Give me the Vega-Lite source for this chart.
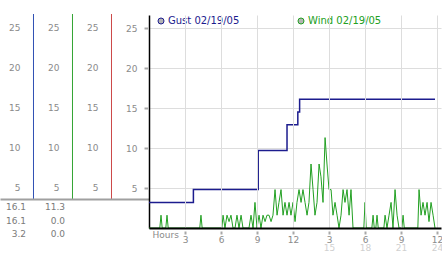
{
  "$schema": "https://vega.github.io/schema/vega-lite/v6.json",
  "padding": {"top": 13, "left": 0, "right": 0, "bottom": 0},
  "background": "white",
  "spacing": 0,
  "bounds": "flush",
  "config": {
    "view": {"stroke": null},
    "font": "DejaVu Sans",
    "axis": {"labelFont": "DejaVu Sans", "titleFont": "DejaVu Sans"},
    "legend": {"labelFont": "DejaVu Sans"}
  },
  "datasets": {
    "gust": [
      {"h": 0, "v": 3.2, "s": "Gust 02/19/05"},
      {"h": 3.7, "v": 4.8, "s": "Gust 02/19/05"},
      {"h": 9.1, "v": 9.7, "s": "Gust 02/19/05"},
      {"h": 11.5, "v": 12.9, "s": "Gust 02/19/05"},
      {"h": 12.4, "v": 14.5, "s": "Gust 02/19/05"},
      {"h": 12.55, "v": 16.1, "s": "Gust 02/19/05"},
      {"h": 23.83, "v": 16.1, "s": "Gust 02/19/05"}
    ],
    "wind": [
      {"h": 0, "v": 0, "s": "Wind 02/19/05"},
      {"h": 0.9, "v": 0, "s": "Wind 02/19/05"},
      {"h": 1, "v": 1.6, "s": "Wind 02/19/05"},
      {"h": 1.1, "v": 0, "s": "Wind 02/19/05"},
      {"h": 1.4, "v": 0, "s": "Wind 02/19/05"},
      {"h": 1.5, "v": 1.6, "s": "Wind 02/19/05"},
      {"h": 1.6, "v": 0, "s": "Wind 02/19/05"},
      {"h": 4.23, "v": 0, "s": "Wind 02/19/05"},
      {"h": 4.33, "v": 1.6, "s": "Wind 02/19/05"},
      {"h": 4.43, "v": 0, "s": "Wind 02/19/05"},
      {"h": 6.07, "v": 0, "s": "Wind 02/19/05"},
      {"h": 6.17, "v": 1.6, "s": "Wind 02/19/05"},
      {"h": 6.33, "v": 0, "s": "Wind 02/19/05"},
      {"h": 6.5, "v": 1.6, "s": "Wind 02/19/05"},
      {"h": 6.67, "v": 0.8, "s": "Wind 02/19/05"},
      {"h": 6.83, "v": 1.6, "s": "Wind 02/19/05"},
      {"h": 7, "v": 0, "s": "Wind 02/19/05"},
      {"h": 7.17, "v": 0, "s": "Wind 02/19/05"},
      {"h": 7.33, "v": 1.6, "s": "Wind 02/19/05"},
      {"h": 7.5, "v": 0, "s": "Wind 02/19/05"},
      {"h": 7.67, "v": 1.6, "s": "Wind 02/19/05"},
      {"h": 7.83, "v": 0, "s": "Wind 02/19/05"},
      {"h": 8.33, "v": 0, "s": "Wind 02/19/05"},
      {"h": 8.5, "v": 1.6, "s": "Wind 02/19/05"},
      {"h": 8.67, "v": 0, "s": "Wind 02/19/05"},
      {"h": 8.83, "v": 3.2, "s": "Wind 02/19/05"},
      {"h": 9, "v": 0, "s": "Wind 02/19/05"},
      {"h": 9.17, "v": 1.6, "s": "Wind 02/19/05"},
      {"h": 9.33, "v": 0, "s": "Wind 02/19/05"},
      {"h": 9.5, "v": 1.6, "s": "Wind 02/19/05"},
      {"h": 9.67, "v": 0.8, "s": "Wind 02/19/05"},
      {"h": 9.83, "v": 1.6, "s": "Wind 02/19/05"},
      {"h": 10, "v": 1.6, "s": "Wind 02/19/05"},
      {"h": 10.17, "v": 0.8, "s": "Wind 02/19/05"},
      {"h": 10.33, "v": 1.6, "s": "Wind 02/19/05"},
      {"h": 10.5, "v": 4.8, "s": "Wind 02/19/05"},
      {"h": 10.67, "v": 1.6, "s": "Wind 02/19/05"},
      {"h": 10.83, "v": 3.2, "s": "Wind 02/19/05"},
      {"h": 11, "v": 4.8, "s": "Wind 02/19/05"},
      {"h": 11.17, "v": 1.6, "s": "Wind 02/19/05"},
      {"h": 11.33, "v": 3.2, "s": "Wind 02/19/05"},
      {"h": 11.5, "v": 1.6, "s": "Wind 02/19/05"},
      {"h": 11.67, "v": 3.2, "s": "Wind 02/19/05"},
      {"h": 11.83, "v": 1.6, "s": "Wind 02/19/05"},
      {"h": 12, "v": 3.2, "s": "Wind 02/19/05"},
      {"h": 12.17, "v": 0.8, "s": "Wind 02/19/05"},
      {"h": 12.33, "v": 3.2, "s": "Wind 02/19/05"},
      {"h": 12.5, "v": 4.8, "s": "Wind 02/19/05"},
      {"h": 12.67, "v": 3.2, "s": "Wind 02/19/05"},
      {"h": 12.83, "v": 4.8, "s": "Wind 02/19/05"},
      {"h": 13, "v": 3.2, "s": "Wind 02/19/05"},
      {"h": 13.17, "v": 1.6, "s": "Wind 02/19/05"},
      {"h": 13.33, "v": 3.2, "s": "Wind 02/19/05"},
      {"h": 13.5, "v": 8.0, "s": "Wind 02/19/05"},
      {"h": 13.67, "v": 4.8, "s": "Wind 02/19/05"},
      {"h": 13.83, "v": 1.6, "s": "Wind 02/19/05"},
      {"h": 14, "v": 3.2, "s": "Wind 02/19/05"},
      {"h": 14.17, "v": 8.0, "s": "Wind 02/19/05"},
      {"h": 14.33, "v": 6.4, "s": "Wind 02/19/05"},
      {"h": 14.5, "v": 3.2, "s": "Wind 02/19/05"},
      {"h": 14.67, "v": 11.3, "s": "Wind 02/19/05"},
      {"h": 14.83, "v": 8.0, "s": "Wind 02/19/05"},
      {"h": 15, "v": 4.8, "s": "Wind 02/19/05"},
      {"h": 15.17, "v": 4.8, "s": "Wind 02/19/05"},
      {"h": 15.33, "v": 1.6, "s": "Wind 02/19/05"},
      {"h": 15.5, "v": 3.2, "s": "Wind 02/19/05"},
      {"h": 15.67, "v": 1.6, "s": "Wind 02/19/05"},
      {"h": 15.83, "v": 0, "s": "Wind 02/19/05"},
      {"h": 16, "v": 1.6, "s": "Wind 02/19/05"},
      {"h": 16.17, "v": 4.8, "s": "Wind 02/19/05"},
      {"h": 16.33, "v": 3.2, "s": "Wind 02/19/05"},
      {"h": 16.5, "v": 4.8, "s": "Wind 02/19/05"},
      {"h": 16.67, "v": 1.6, "s": "Wind 02/19/05"},
      {"h": 16.83, "v": 4.8, "s": "Wind 02/19/05"},
      {"h": 17, "v": 0, "s": "Wind 02/19/05"},
      {"h": 17.9, "v": 0, "s": "Wind 02/19/05"},
      {"h": 18, "v": 3.2, "s": "Wind 02/19/05"},
      {"h": 18.1, "v": 0, "s": "Wind 02/19/05"},
      {"h": 18.57, "v": 0, "s": "Wind 02/19/05"},
      {"h": 18.67, "v": 1.6, "s": "Wind 02/19/05"},
      {"h": 18.77, "v": 0, "s": "Wind 02/19/05"},
      {"h": 18.9, "v": 0, "s": "Wind 02/19/05"},
      {"h": 19, "v": 1.6, "s": "Wind 02/19/05"},
      {"h": 19.1, "v": 0, "s": "Wind 02/19/05"},
      {"h": 19.57, "v": 0, "s": "Wind 02/19/05"},
      {"h": 19.67, "v": 1.6, "s": "Wind 02/19/05"},
      {"h": 19.83, "v": 0, "s": "Wind 02/19/05"},
      {"h": 20, "v": 1.6, "s": "Wind 02/19/05"},
      {"h": 20.17, "v": 3.2, "s": "Wind 02/19/05"},
      {"h": 20.33, "v": 0, "s": "Wind 02/19/05"},
      {"h": 20.5, "v": 4.8, "s": "Wind 02/19/05"},
      {"h": 20.67, "v": 1.6, "s": "Wind 02/19/05"},
      {"h": 20.83, "v": 0, "s": "Wind 02/19/05"},
      {"h": 21.07, "v": 0, "s": "Wind 02/19/05"},
      {"h": 21.17, "v": 1.6, "s": "Wind 02/19/05"},
      {"h": 21.27, "v": 0, "s": "Wind 02/19/05"},
      {"h": 22.4, "v": 0, "s": "Wind 02/19/05"},
      {"h": 22.5, "v": 4.8, "s": "Wind 02/19/05"},
      {"h": 22.67, "v": 1.6, "s": "Wind 02/19/05"},
      {"h": 22.83, "v": 3.2, "s": "Wind 02/19/05"},
      {"h": 23, "v": 1.6, "s": "Wind 02/19/05"},
      {"h": 23.17, "v": 3.2, "s": "Wind 02/19/05"},
      {"h": 23.33, "v": 0.8, "s": "Wind 02/19/05"},
      {"h": 23.5, "v": 3.2, "s": "Wind 02/19/05"},
      {"h": 23.67, "v": 1.6, "s": "Wind 02/19/05"},
      {"h": 23.83, "v": 0, "s": "Wind 02/19/05"}
    ],
    "columns": [
      {"col": 1, "s": "Gust"},
      {"col": 2, "s": "Wind"},
      {"col": 3, "s": "Other"}
    ],
    "levels": [
      {"col": 1, "v": 5}, {"col": 1, "v": 10}, {"col": 1, "v": 15}, {"col": 1, "v": 20}, {"col": 1, "v": 25},
      {"col": 2, "v": 5}, {"col": 2, "v": 10}, {"col": 2, "v": 15}, {"col": 2, "v": 20}, {"col": 2, "v": 25},
      {"col": 3, "v": 5}, {"col": 3, "v": 10}, {"col": 3, "v": 15}, {"col": 3, "v": 20}, {"col": 3, "v": 25}
    ],
    "stats": [
      {"col": 1, "stat": "max", "value": 16.1},
      {"col": 1, "stat": "last", "value": 16.1},
      {"col": 1, "stat": "min", "value": 3.2},
      {"col": 2, "stat": "max", "value": 11.3},
      {"col": 2, "stat": "last", "value": 0.0},
      {"col": 2, "stat": "min", "value": 0.0}
    ]
  },
  "resolve": {"scale": {"color": "independent"}, "legend": {"color": "independent"}},
  "hconcat": [
    {
      "width": 149,
      "height": 184,
      "encoding": {
        "x": {"field": "col", "type": "quantitative", "scale": {"domain": [0.141, 3.962], "nice": false, "zero": false},
              "axis": {"orient": "bottom", "labels": false, "ticks": false, "grid": false, "title": null, "domainColor": "#a0a0a0", "domainWidth": 2, "zindex": 1}}
      },
      "layer": [
        {
          "data": {"name": "columns"},
          "transform": [{"filter": "datum.s == 'Gust'"}],
          "mark": {"type": "rule", "strokeWidth": 1, "stroke": "#3050b4", "opacity": 1, "yOffset": -1, "y2Offset": 40},
          "encoding": {}
        },
        {
          "data": {"name": "columns"},
          "transform": [{"filter": "datum.s == 'Wind'"}],
          "mark": {"type": "rule", "strokeWidth": 1, "stroke": "#34a434", "opacity": 1, "yOffset": -1, "y2Offset": 40},
          "encoding": {}
        },
        {
          "data": {"name": "columns"},
          "transform": [{"filter": "datum.s == 'Other'"}],
          "mark": {"type": "rule", "strokeWidth": 1, "stroke": "#cc4848", "opacity": 1, "yOffset": -1, "y2Offset": 40},
          "encoding": {}
        },
        {
          "data": {"name": "levels"},
          "mark": {"type": "text", "align": "right", "baseline": "middle", "dx": -13, "fontSize": 9, "fill": "#8a8a8a", "font": "DejaVu Sans"},
          "encoding": {
            "y": {"field": "v", "type": "quantitative", "scale": {"domain": [3.625, 26.625], "nice": false, "zero": false}, "axis": null},
            "text": {"field": "v", "type": "quantitative"}
          }
        },
        {
          "data": {"name": "stats"},
          "mark": {"type": "text", "align": "right", "baseline": "middle", "dx": -7.5, "fontSize": 9, "fill": "#7a7a7a", "font": "DejaVu Sans"},
          "encoding": {
            "y": {"field": "stat", "type": "ordinal", "sort": ["max", "last", "min"], "scale": {"type": "point", "range": [192, 219], "padding": 0}, "axis": null},
            "text": {"field": "value", "type": "quantitative", "format": ".1f"}
          }
        }
      ],
      "resolve": {"scale": {"y": "independent"}}
    },
    {
      "width": 292,
      "height": 213,
      "encoding": {
        "y": {"field": "v", "type": "quantitative", "scale": {"domain": [0, 26.625], "nice": false, "zero": false},
              "axis": {"values": [5, 10, 15, 20, 25], "title": null, "labelFontSize": 9, "labelColor": "#8a8a8a", "tickSize": 5, "tickDash": [3.5, 1.5], "tickDashOffset": 3.5, "tickColor": "#a8a8a8", "tickWidth": 2, "labelPadding": 7, "domainColor": "#000000", "domainWidth": 1.5, "grid": true, "gridColor": "#dddddd"}},
        "color": {"field": "s", "type": "nominal",
                  "scale": {"domain": ["Gust 02/19/05", "Wind 02/19/05"], "range": ["#1c1c8e", "#22a022"]},
                  "legend": {"orient": "none", "legendX": 7, "legendY": 1, "direction": "horizontal", "title": null, "symbolType": "circle", "symbolSize": 36, "symbolStrokeWidth": 1, "labelFontSize": 10, "labelOffset": 2, "columnPadding": 56, "padding": 0,
                             "encode": {
                               "symbols": {"update": {"fill": {"value": "#b4b4b4"}, "stroke": {"value": "#909090"}, "opacity": {"value": 1}}},
                               "labels": {"update": {"fill": {"signal": "datum.label == 'Gust 02/19/05' ? '#1c1c8e' : '#22a022'"}}}
                             }}}
      },
      "layer": [
        {
          "data": {"name": "wind"},
          "mark": {"type": "line", "strokeWidth": 1},
          "encoding": {
            "x": {"field": "h", "type": "quantitative", "scale": {"domain": [0, 24.33], "nice": false, "zero": false},
                  "axis": {"orient": "bottom", "values": [3, 6, 9, 12, 15, 18, 21, 24], "labelExpr": "'' + (datum.value > 12 ? datum.value - 12 : datum.value)", "title": "Hours", "titleAnchor": "start", "titleAlign": "left", "titleX": 3, "titleY": 2, "titleBaseline": "top", "titleFontSize": 9, "titleFontWeight": "normal", "titleColor": "#8a8a8a", "labelFontSize": 9, "labelColor": "#8a8a8a", "labelPadding": 1, "tickSize": 6, "tickDash": [3, 3], "tickDashOffset": 3, "tickColor": "#a8a8a8", "tickWidth": 2, "domainColor": "#000000", "domainWidth": 2, "grid": true, "gridColor": "#dddddd", "labelFlush": false, "labelOverlap": false, "zindex": 1}}
          }
        },
        {
          "data": {"name": "gust"},
          "mark": {"type": "line", "interpolate": "step-after", "strokeWidth": 1.5},
          "encoding": {
            "x": {"field": "h", "type": "quantitative", "scale": {"domain": [0, 24.33], "nice": false, "zero": false},
                  "axis": {"orient": "bottom", "values": [15, 18, 21, 24], "title": null, "labelFontSize": 9, "labelColor": "#d0d0d0", "labelPadding": 15, "domain": false, "ticks": false, "grid": false, "labelFlush": false, "labelOverlap": false}}
          }
        }
      ],
      "resolve": {"axis": {"x": "independent"}}
    }
  ]
}
